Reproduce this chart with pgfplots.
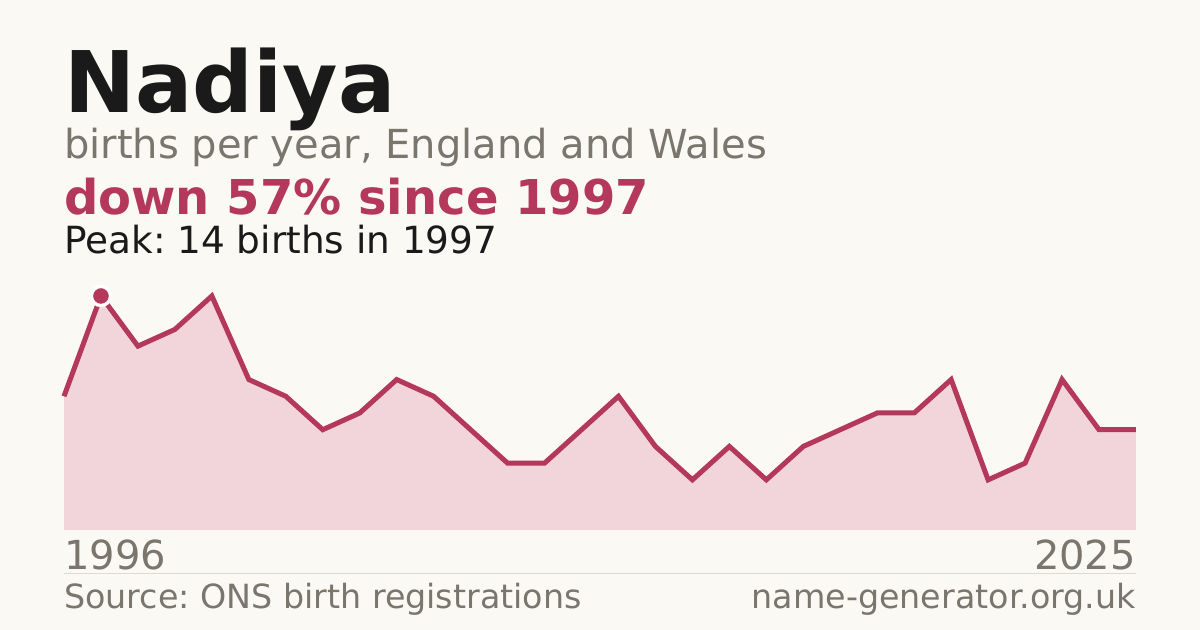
\documentclass[border=0pt]{standalone}
\usepackage{pgfplots}
\pgfplotsset{compat=1.18}
\usepackage{fontspec}
\setmainfont{DejaVu Sans}

\definecolor{bg}{HTML}{FAF9F4}
\definecolor{ink}{HTML}{1A1A1A}
\definecolor{muted}{HTML}{7A756D}
\definecolor{accent}{HTML}{B3385A}
\definecolor{area}{HTML}{F2D5DB}
\definecolor{rule}{HTML}{DDDAD2}

\pgfplotstableread{
year births
1996 8
1997 14
1998 11
1999 12
2000 14
2001 9
2002 8
2003 6
2004 7
2005 9
2006 8
2007 6
2008 4
2009 4
2010 6
2011 8
2012 5
2013 3
2014 5
2015 3
2016 5
2017 6
2018 7
2019 7
2020 9
2021 3
2022 4
2023 9
2024 6
2025 6
}\births

\begin{document}
\frenchspacing
\begin{tikzpicture}[x=1bp,y=1bp]
  \fill[bg] (0,0) rectangle (1200,630);

  \node[anchor=base west,inner sep=0,text=ink,font=\fontsize{85bp}{90bp}\selectfont\bfseries] at (64,517) {Nadiya};
  \node[anchor=base west,inner sep=0,text=muted,font=\fontsize{40bp}{44bp}\selectfont] at (64,471) {births per year, England and Wales};
  \node[anchor=base west,inner sep=0,text=accent,font=\fontsize{48bp}{52bp}\selectfont\bfseries] at (64,415) {down 57\% since 1997};
  \node[anchor=base west,inner sep=0,text=ink,font=\fontsize{37.4bp}{40bp}\selectfont] at (64,376) {Peak: 14 births in 1997};

  \begin{axis}[
      at={(64bp,100bp)}, anchor=origin,
      scale only axis,
      width=1072bp, height=234bp,
      xmin=1996, xmax=2025, ymin=0, ymax=14,
      axis lines=none,
      clip=false,
    ]
    \addplot[draw=none, fill=area] table[x=year,y=births] {\births} \closedcycle;
    \addplot[accent, line width=5bp, line join=miter, mark=none] table[x=year,y=births] {\births};
    \addplot[only marks, mark=*, mark size=11bp, mark options={draw=white, fill=white}]
      coordinates {(1997,14)};
    \addplot[only marks, mark=*, mark size=7.5bp, mark options={draw=accent, fill=accent}]
      coordinates {(1997,14)};
  \end{axis}

  \node[anchor=base west,inner sep=0,text=muted,font=\fontsize{40bp}{44bp}\selectfont] at (64,60) {1996};
  \node[anchor=base east,inner sep=0,text=muted,font=\fontsize{40bp}{44bp}\selectfont] at (1136,60) {2025};
  \draw[rule, line width=1bp] (64,56) -- (1136,56);
  \node[anchor=base west,inner sep=0,text=muted,font=\fontsize{33.3bp}{36bp}\selectfont] at (64,21) {Source: ONS birth registrations};
  \node[anchor=base east,inner sep=0,text=muted,font=\fontsize{33.3bp}{36bp}\selectfont] at (1136,21) {name-generator.org.uk};
\end{tikzpicture}
\end{document}
